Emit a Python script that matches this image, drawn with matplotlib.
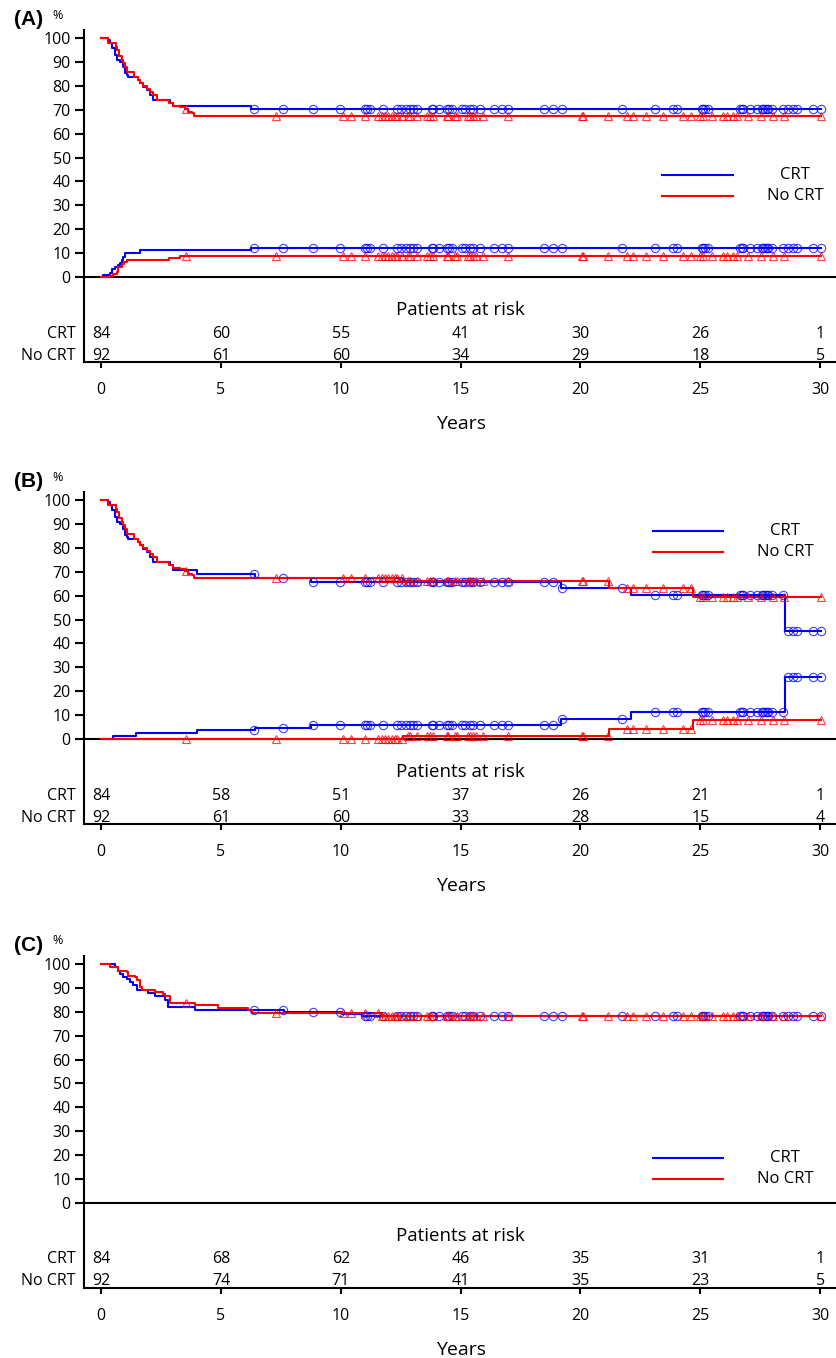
import numpy as np
import matplotlib.pyplot as plt

plt.rcParams['font.family'] = ['Open Sans', 'DejaVu Sans']

BLUE = '#0000ff'
RED = '#ff0000'

# censoring times in years (same patients in all three panels)
crt_censor = [6.38, 7.6, 8.85, 9.97, 11.0, 11.1, 11.2, 11.76, 12.35, 12.5, 12.72, 12.89,
              13.02, 13.18, 13.81, 13.85, 14.1, 14.43, 14.52, 14.64, 15.06, 15.19, 15.4,
              15.52, 15.81, 16.4, 16.73, 16.98, 18.48, 18.86, 19.23, 21.74, 23.11, 23.86,
              24.03, 25.07, 25.1, 25.2, 25.3, 26.66, 26.74, 26.78, 27.08, 27.37, 27.58,
              27.62, 27.7, 27.79, 27.83, 28.0, 28.45, 28.66, 28.87, 29.04, 29.7, 30.04]
nocrt_censor = [3.55, 7.3, 10.1, 10.43, 11.0, 11.56, 11.72, 11.85, 11.97, 12.14, 12.27,
                12.35, 12.56, 12.81, 12.9, 13.18, 13.6, 13.73, 13.85, 14.43, 14.48, 14.77,
                14.85, 15.31, 15.4, 15.52, 15.65, 15.94, 16.98, 20.07, 20.11, 21.15, 21.95,
                22.2, 22.75, 23.45, 24.28, 24.62, 24.99, 25.11, 25.49, 25.95, 26.11, 26.37,
                26.53, 26.99, 27.54, 28.04, 28.5, 30.04]

# (A) step times and levels after each step
a_crt_top_t = [0.31, 0.38, 0.45, 0.58, 0.65, 0.79, 0.93, 1.0, 1.07, 1.14, 1.56, 1.63, 1.77,
               1.91, 2.04, 2.16, 2.88, 3.02, 6.24]
a_crt_top_v = [99.0, 97.8, 95.7, 93.0, 90.8, 90.1, 88.0, 85.5, 84.5, 83.5, 82.4, 81.0, 79.4,
               78.2, 76.2, 74.1, 72.7, 71.5, 70.3]
a_nocrt_top_t = [0.31, 0.63, 0.68, 0.76, 0.86, 0.93, 1.0, 1.07, 1.38, 1.56, 1.63, 1.77, 1.91,
                 2.04, 2.18, 2.32, 2.85, 3.02, 3.3, 3.5, 3.64, 3.78, 3.88]
a_nocrt_top_v = [98.0, 96.4, 95.0, 92.5, 91.0, 89.4, 88.0, 85.9, 83.8, 82.4, 81.0, 80.0, 78.5,
                 77.5, 76.2, 74.1, 72.7, 71.5, 71.0, 70.2, 69.2, 68.5, 67.5]
a_crt_low_t = [0.1, 0.38, 0.45, 0.58, 0.72, 0.79, 0.86, 0.93, 1.0, 1.63, 6.24]
a_crt_low_v = [0.8, 1.8, 3.2, 4.3, 5.0, 6.0, 7.1, 8.5, 9.9, 11.3, 12.3]
a_nocrt_low_t = [0.38, 0.51, 0.65, 0.72, 0.86, 0.96, 1.07, 2.85, 3.3]
a_nocrt_low_v = [0.5, 1.1, 2.2, 4.3, 5.4, 6.5, 7.1, 8.0, 9.0]

# (B)
b_crt_top_t = [0.31, 0.38, 0.45, 0.58, 0.65, 0.79, 0.93, 1.0, 1.07, 1.14, 1.56, 1.63, 1.77,
               1.91, 2.04, 2.16, 2.88, 3.02, 4.0, 6.42, 8.75, 19.2, 22.1, 28.55]
b_crt_top_v = [99.0, 97.8, 95.7, 93.0, 90.8, 90.1, 88.0, 85.5, 84.5, 83.5, 82.4, 81.0, 79.4,
               78.2, 76.2, 74.1, 72.7, 70.8, 69.1, 67.3, 65.5, 63.0, 60.2, 45.3]
b_nocrt_top_t = [0.31, 0.63, 0.68, 0.76, 0.86, 0.93, 1.0, 1.07, 1.38, 1.56, 1.63, 1.77, 1.91,
                 2.04, 2.18, 2.32, 2.85, 3.02, 3.3, 3.5, 3.64, 3.78, 3.88, 12.6, 21.2, 24.7]
b_nocrt_top_v = [98.0, 96.4, 95.0, 92.5, 91.0, 89.4, 88.0, 85.9, 83.8, 82.4, 81.0, 80.0, 78.5,
                 77.5, 76.2, 74.1, 72.7, 71.5, 71.0, 70.2, 69.2, 68.5, 67.5, 66.3, 63.3, 59.5]
b_crt_low_t = [0.5, 1.45, 4.0, 6.42, 8.75, 19.2, 22.1, 28.55]
b_crt_low_v = [1.2, 2.4, 3.6, 4.8, 6.0, 8.5, 11.2, 25.8]
b_nocrt_low_t = [12.6, 21.2, 24.7]
b_nocrt_low_v = [1.2, 4.2, 7.8]

# (C)
c_crt_top_t = [0.58, 0.72, 0.79, 0.93, 1.07, 1.21, 1.35, 1.49, 1.97, 2.25, 2.67, 2.81, 3.92,
               7.65, 10.05, 10.9]
c_crt_top_v = [98.6, 97.2, 95.8, 94.7, 93.7, 92.4, 91.0, 89.2, 87.8, 86.4, 84.7, 81.9, 80.8,
               79.9, 78.9, 78.0]
c_nocrt_top_t = [0.38, 0.72, 1.07, 1.14, 1.42, 1.49, 1.63, 1.7, 2.25, 2.6, 2.67, 2.88, 3.92,
                 4.9, 6.15, 6.29, 11.71]
c_nocrt_top_v = [98.9, 97.2, 96.5, 95.1, 94.4, 93.1, 90.3, 88.9, 88.2, 87.5, 86.4, 83.6, 82.6,
                 81.7, 80.6, 79.6, 78.1]

# patients at risk
risk_years = [0, 5, 10, 15, 20, 25, 30]
a_risk_crt = [84, 60, 55, 41, 30, 26, 1]
a_risk_nocrt = [92, 61, 60, 34, 29, 18, 5]
b_risk_crt = [84, 58, 51, 37, 26, 21, 1]
b_risk_nocrt = [92, 61, 60, 33, 28, 15, 4]
c_risk_crt = [84, 68, 62, 46, 35, 31, 1]
c_risk_nocrt = [92, 74, 71, 41, 35, 23, 5]

END = 30.04
FS = 11.5


def km_curve(ax, times, values, start, color, marker, censor):
    x = [0.0] + list(times) + [END]
    y = [start] + list(values) + [values[-1]]
    ax.step(x, y, where='post', color=color, lw=1.5, zorder=3)
    # censor marks sit on the curve level at that time
    t = np.asarray(times)
    v = np.asarray(values)
    idx = np.searchsorted(t, censor, side='right') - 1
    level = np.where(idx >= 0, v[np.clip(idx, 0, None)], start)
    ax.plot(censor, level, ls='none', marker=marker, mfc='none', mec=color,
            ms=6, mew=0.8, alpha=0.75, zorder=4)


def draw_panel(ax, letter, curves, risk_crt, risk_nocrt, key):
    ax.set_xlim(-0.709, 30.7)
    ax.set_ylim(-35.56, 103.35)
    ax.axhline(0, color='black', lw=1.5, zorder=2)

    for times, values, start, color, marker, censor in curves:
        km_curve(ax, times, values, start, color, marker, censor)

    ax.spines['top'].set_visible(False)
    ax.spines['right'].set_visible(False)
    ax.spines['left'].set_linewidth(1.5)
    ax.spines['bottom'].set_linewidth(1.5)
    ax.set_yticks(range(0, 101, 10))
    ax.set_xticks(risk_years)
    ax.tick_params(axis='y', direction='out', length=6.5, width=1.5, labelsize=FS, pad=3)
    ax.tick_params(axis='x', direction='out', length=4.5, width=1.5, labelsize=FS, pad=10)
    ax.set_xlabel('Years', fontsize=14, labelpad=12)

    # risk table
    ax.text(15, -15.9, 'Patients at risk', ha='center', va='baseline', fontsize=13.5)
    for yr, n1, n2 in zip(risk_years, risk_crt, risk_nocrt):
        ax.text(yr, -25.3, str(n1), ha='center', va='baseline', fontsize=FS)
        ax.text(yr, -34.5, str(n2), ha='center', va='baseline', fontsize=FS)
    ax.text(-1.08, -25.3, 'CRT', ha='right', va='baseline', fontsize=FS)
    ax.text(-1.08, -34.5, 'No CRT', ha='right', va='baseline', fontsize=FS)

    # hand-made legend
    x0, x1, xt, y1, y2 = key
    ax.plot([x0, x1], [y1, y1], color=BLUE, lw=1.5)
    ax.plot([x0, x1], [y2, y2], color=RED, lw=1.5)
    ax.text(xt, y1, 'CRT', ha='center', va='center', fontsize=12)
    ax.text(xt, y2, 'No CRT', ha='center', va='center', fontsize=12)

    # panel letter and unit
    top = ax.get_position().y1
    fig.text(0.017, top + 0.0075, letter, fontsize=15, fontweight='bold',
             family='Liberation Sans', va='center', ha='left')
    fig.text(0.063, top + 0.011, '%', fontsize=9, va='center', ha='left')


fig = plt.figure(figsize=(8.37, 13.58), dpi=100)
ax_a = fig.add_axes([0.1004, 0.7334, 0.8996, 0.2445])
ax_b = fig.add_axes([0.1004, 0.3932, 0.8996, 0.2445])
ax_c = fig.add_axes([0.1004, 0.0516, 0.8996, 0.2445])

draw_panel(ax_a, '(A)',
           [(a_crt_top_t, a_crt_top_v, 100, BLUE, 'o', crt_censor),
            (a_nocrt_top_t, a_nocrt_top_v, 100, RED, '^', nocrt_censor),
            (a_crt_low_t, a_crt_low_v, 0, BLUE, 'o', crt_censor),
            (a_nocrt_low_t, a_nocrt_low_v, 0, RED, '^', nocrt_censor)],
           a_risk_crt, a_risk_nocrt, (23.4, 26.37, 28.95, 42.7, 33.9))

draw_panel(ax_b, '(B)',
           [(b_crt_top_t, b_crt_top_v, 100, BLUE, 'o', crt_censor),
            (b_nocrt_top_t, b_nocrt_top_v, 100, RED, '^', nocrt_censor),
            (b_crt_low_t, b_crt_low_v, 0, BLUE, 'o', crt_censor),
            (b_nocrt_low_t, b_nocrt_low_v, 0, RED, '^', nocrt_censor)],
           b_risk_crt, b_risk_nocrt, (23.03, 25.95, 28.54, 87.0, 78.2))

draw_panel(ax_c, '(C)',
           [(c_crt_top_t, c_crt_top_v, 100, BLUE, 'o', crt_censor),
            (c_nocrt_top_t, c_nocrt_top_v, 100, RED, '^', nocrt_censor)],
           c_risk_crt, c_risk_nocrt, (23.03, 25.95, 28.54, 18.75, 10.0))

fig.savefig('out.png', dpi=100)
